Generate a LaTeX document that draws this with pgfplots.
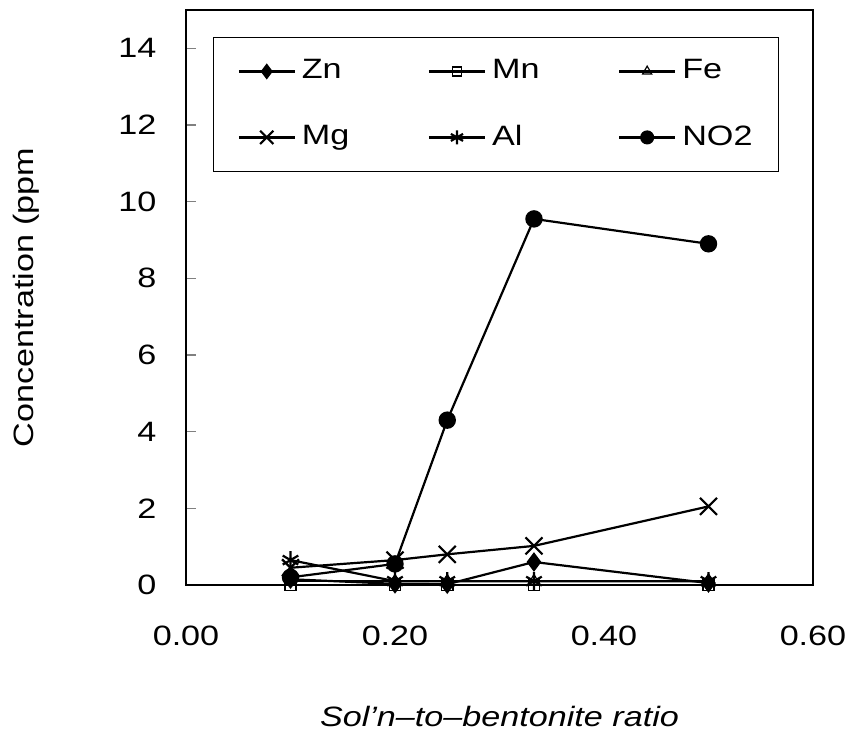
\documentclass[border=0pt]{standalone}
\usepackage{fontspec}
\setmainfont{Liberation Sans}[FakeStretch=1.22]
\usepackage{pgfplots}
\pgfplotsset{compat=1.18}

\begin{document}
\fontsize{14}{17}\selectfont
\begin{tikzpicture}
\begin{axis}[
  at={(0,0)}, anchor=south west,
  scale only axis, width=313.5pt, height=287.5pt,
  xmin=0, xmax=0.6, ymin=0, ymax=15,
  xtick={0,0.2,0.4,0.6}, xticklabels={0.00,0.20,0.40,0.60},
  ytick={0,2,4,6,8,10,12,14},
  /pgf/number format/assume math mode=true,
  tick align=inside, ytick pos=left, major tick length=5pt,
  x tick style={draw=none},
  xticklabel style={yshift=-15.5pt},
  yticklabel style={xshift=-10pt},
  axis line style={line width=0.8pt},
  y tick style={line width=0.6pt},
  xlabel={\itshape Sol'n--to--bentonite ratio},
  ylabel={Concentration (ppm},
  xlabel style={yshift=-21pt},
  ylabel style={yshift=30pt},
  every axis plot/.append style={black, line width=1.1pt, mark options={solid}},
  legend columns=3,
  legend style={at={(0.043,0.953)}, anchor=north west, draw=black,
    line width=0.7pt, inner xsep=12pt, inner ysep=9pt,
    /tikz/every even column/.append style={column sep=14pt},
    /tikz/every odd column/.append style={column sep=1pt},
    row sep=17pt},
  legend image code/.code={\draw[#1, every mark/.append style={scale=0.78}, mark repeat=2, mark phase=2] plot coordinates {(0pt,0pt) (14pt,0pt) (28pt,0pt)};},
]
\addplot[mark=diamond*, mark size=4pt] coordinates {
  (0.10,0.15) (0.20,0.03) (0.25,0.02) (0.333,0.60) (0.50,0.05)};
\addlegendentry{\makebox[47pt][l]{Zn}}
\addplot[mark=square, mark size=2.8pt, mark options={fill=white, line width=0.8pt}] coordinates {
  (0.10,0.0) (0.20,0.0) (0.25,0.0) (0.333,0.0) (0.50,0.0)};
\addlegendentry{\makebox[47pt][l]{Mn}}
\addplot[mark=triangle, mark size=3.4pt, mark options={fill=white, line width=0.6pt}] coordinates {
  (0.10,0.10) (0.20,0.10) (0.25,0.10) (0.333,0.10) (0.50,0.10)};
\addlegendentry{\makebox[34pt][l]{Fe}}
\addplot[mark=x, mark size=6pt] coordinates {
  (0.10,0.45) (0.20,0.65) (0.25,0.80) (0.333,1.02) (0.50,2.05)};
\addlegendentry{\makebox[47pt][l]{Mg}}
\addplot[mark=asterisk, mark size=4.5pt] coordinates {
  (0.10,0.65) (0.20,0.10) (0.25,0.10) (0.333,0.10) (0.50,0.10)};
\addlegendentry{\makebox[47pt][l]{Al}}
\addplot[mark=*, mark size=3.8pt] coordinates {
  (0.10,0.20) (0.20,0.55) (0.25,4.30) (0.333,9.55) (0.50,8.90)};
\addlegendentry{\makebox[34pt][l]{NO2}}
\end{axis}
\pgfresetboundingbox
\path[use as bounding box] (-93pt,-76pt) rectangle (329.5pt,292.5pt);
\end{tikzpicture}
\end{document}
